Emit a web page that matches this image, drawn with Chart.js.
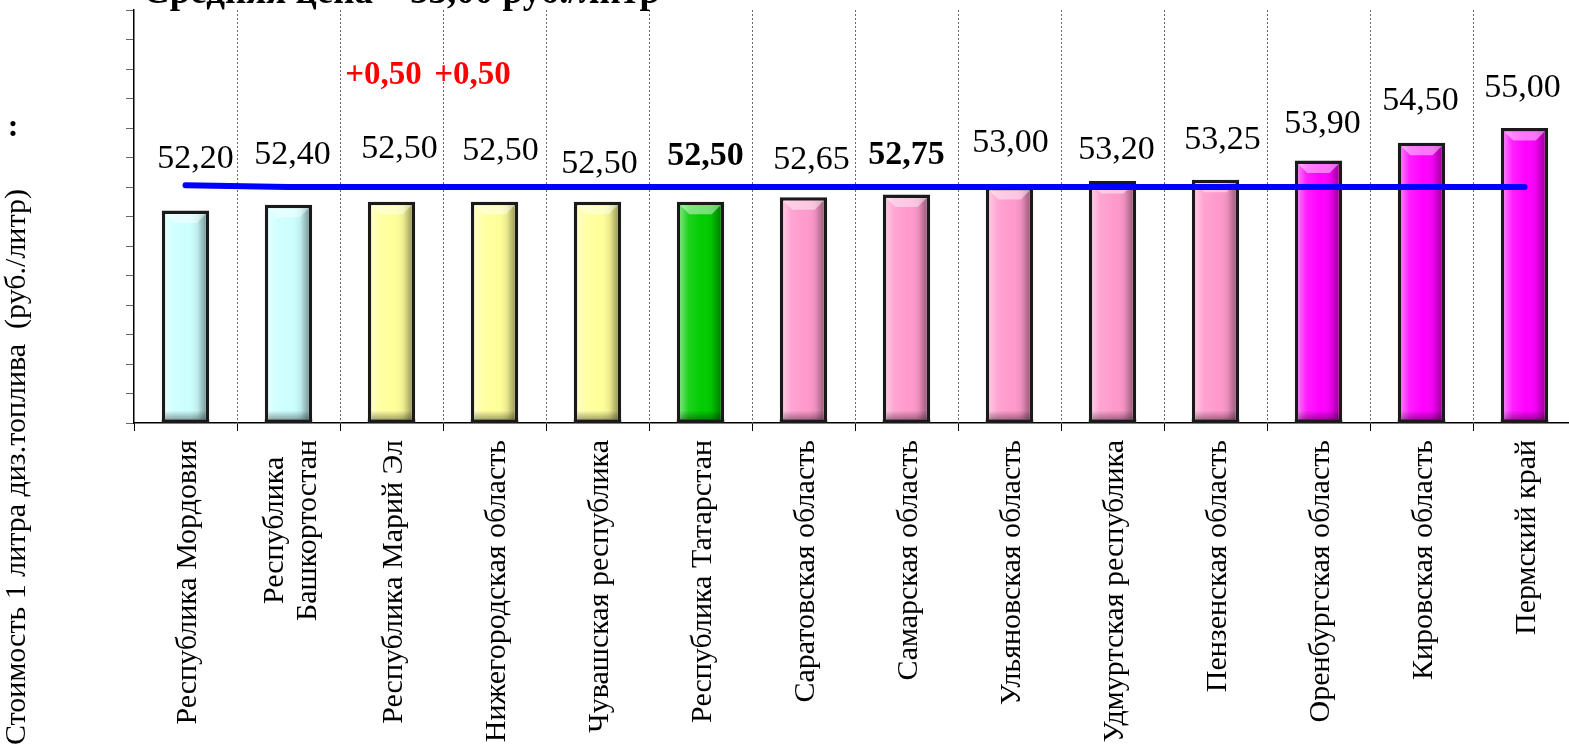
<!DOCTYPE html>
<html>
<head>
<meta charset="utf-8">
<script src="https://cdn.jsdelivr.net/npm/chart.js@4"></script>
<style>
    html, body { margin: 0; padding: 0; background: #fff; overflow: hidden; }
    #wrap { width: 1576px; height: 750px; }
</style>
</head>
<body>
<div id="wrap"><canvas id="priceChart" width="1576" height="750"></canvas></div>
<script>
// Regions (x axis categories)
const regions = [
    'Республика Мордовия',
    ['Республика', 'Башкортостан'],
    'Республика Марий Эл',
    'Нижегородская область',
    'Чувашская республика',
    'Республика Татарстан',
    'Саратовская область',
    'Самарская область',
    'Ульяновская область',
    'Удмуртская республика',
    'Пензенская область',
    'Оренбургская область',
    'Кировская область',
    'Пермский край'
];

// Price of 1 litre of diesel, rub.
const prices = [52.20, 52.40, 52.50, 52.50, 52.50, 52.50, 52.65, 52.75, 53.00, 53.20, 53.25, 53.90, 54.50, 55.00];

// Average price line
const averagePrice = [53.06, 53.00, 53.00, 53.00, 53.00, 53.00, 53.00, 53.00, 53.00, 53.00, 53.00, 53.00, 53.00, 53.00];

// Price change shown in red above some regions
const priceChange = [null, null, 0.50, 0.50, null, null, null, null, null, null, null, null, null, null];

// Y scale
const yMin = 45;
const yMax = 59;
const yStep = 1;

// Styles
const barColors = ['#ccffff', '#ccffff', '#ffff99', '#ffff99', '#ffff99', '#00cc00', '#ff99cc',
    '#ff99cc', '#ff99cc', '#ff99cc', '#ff99cc', '#ff00ff', '#ff00ff', '#ff00ff'];
const boldLabel = [false, false, false, false, false, true, false, true, false, false, false, false, false, false];
const labelLift = [52, 50, 53, 51, 38, 46, 37, 39, 44, 31, 40, 36, 42, 40];
const labelShift = [10, 4, 8, 6, 2, 5, 8, 0, 1, 4, 7, 4, -1, -2];

const serif = "'Liberation Serif', 'Times New Roman', serif";

function formatRu(v) {
    return v.toFixed(2).replace('.', ',');
}

// Dotted vertical grid lines between categories
const gridPlugin = {
    id: 'dottedGrid',
    beforeDatasetsDraw(chart) {
        const ctx = chart.ctx;
        const x = chart.scales.x;
        const area = chart.chartArea;
        ctx.save();
        ctx.strokeStyle = '#666';
        ctx.lineWidth = 1;
        ctx.setLineDash([2, 2]);
        for (let i = 1; i < regions.length; i++) {
            const px = Math.round((x.getPixelForValue(i - 1) + x.getPixelForValue(i)) / 2) + 0.5;
            ctx.beginPath();
            ctx.moveTo(px, area.top);
            ctx.lineTo(px, area.bottom);
            ctx.stroke();
        }
        ctx.restore();
    }
};

// Bevel shading on bars
const bevelPlugin = {
    id: 'bevel',
    afterDatasetDraw(chart, args) {
        if (args.index !== 0) return;
        const ctx = chart.ctx;
        const area = chart.chartArea;
        ctx.save();
        args.meta.data.forEach(bar => {
            const b = 3.5;
            const left = bar.x - bar.width / 2 + b;
            const right = bar.x + bar.width / 2 - b;
            const top = bar.y + b;
            const bottom = Math.min(bar.base, area.bottom) - b;
            const w = right - left;
            const g = ctx.createLinearGradient(left, 0, right, 0);
            g.addColorStop(0, 'rgba(255,255,255,0.45)');
            g.addColorStop(0.2, 'rgba(255,255,255,0.12)');
            g.addColorStop(0.55, 'rgba(255,255,255,0)');
            g.addColorStop(0.8, 'rgba(0,0,0,0.08)');
            g.addColorStop(1, 'rgba(0,0,0,0.38)');
            ctx.fillStyle = g;
            ctx.fillRect(left, top, w, bottom - top);
            // top facet
            ctx.fillStyle = 'rgba(255,255,255,0.45)';
            ctx.beginPath();
            ctx.moveTo(left, top);
            ctx.lineTo(right, top);
            ctx.lineTo(right - 9, top + 9);
            ctx.lineTo(left + 9, top + 9);
            ctx.closePath();
            ctx.fill();
            // bottom facet
            const gb = ctx.createLinearGradient(0, bottom - 9, 0, bottom);
            gb.addColorStop(0, 'rgba(0,0,0,0)');
            gb.addColorStop(1, 'rgba(0,0,0,0.35)');
            ctx.fillStyle = gb;
            ctx.fillRect(left, bottom - 9, w, 9);
            // bottom border (the bar itself is clipped at the axis)
            ctx.fillStyle = '#1a1a1a';
            ctx.fillRect(left - b, bottom, w + 2 * b, b);
        });
        ctx.restore();
    }
};

// Value labels, red change labels, category labels, title and y-axis caption
const textPlugin = {
    id: 'texts',
    afterDraw(chart) {
        const ctx = chart.ctx;
        const bars = chart.getDatasetMeta(0).data;
        const xs = chart.scales.x;
        ctx.save();
        ctx.textAlign = 'center';
        ctx.textBaseline = 'middle';
        ctx.fillStyle = '#000';
        bars.forEach((bar, i) => {
            ctx.font = (boldLabel[i] ? 'bold ' : '') + '34px ' + serif;
            ctx.fillText(formatRu(prices[i]), bar.x + labelShift[i], bar.y - labelLift[i]);
        });

        // red change labels
        ctx.fillStyle = '#ff0000';
        ctx.font = 'bold 33px ' + serif;
        const changeShift = [0, 0, -8, -22];
        bars.forEach((bar, i) => {
            if (priceChange[i] === null) return;
            ctx.fillText('+' + formatRu(priceChange[i]), bar.x + (changeShift[i] || 0), 75);
        });

        // category labels, rotated, top-aligned under the axis
        ctx.fillStyle = '#000';
        ctx.font = '30px ' + serif;
        const labelTop = chart.chartArea.bottom + 17;
        const lineH = 33;
        regions.forEach((lab, i) => {
            const lines = Array.isArray(lab) ? lab : [lab];
            const maxW = Math.max(...lines.map(l => ctx.measureText(l).width));
            const cx = xs.getPixelForValue(i) + 3;
            ctx.save();
            ctx.translate(cx, labelTop + maxW / 2);
            ctx.rotate(-Math.PI / 2);
            lines.forEach((l, k) => {
                const dy = (k - (lines.length - 1) / 2) * lineH;
                ctx.fillText(l, 0, dy);
            });
            ctx.restore();
        });

        // title (clipped at top edge)
        ctx.textAlign = 'left';
        ctx.textBaseline = 'alphabetic';
        ctx.font = 'bold 37px ' + serif;
        ctx.fillText('Средняя цена – 53,00 руб./литр', 143, 3);

        // y-axis caption
        ctx.font = '30px ' + serif;
        ctx.translate(17, 745);
        ctx.rotate(-Math.PI / 2);
        ctx.textBaseline = 'middle';
        ctx.fillText('Стоимость 1 литра диз.топлива  (руб./литр)', 0, 0);
        ctx.restore();

        ctx.save();
        ctx.font = 'bold 32px ' + serif;
        ctx.textAlign = 'center';
        ctx.textBaseline = 'middle';
        ctx.fillText(':', 13, 128);
        ctx.restore();
    }
};

const ctx = document.getElementById('priceChart').getContext('2d');
new Chart(ctx, {
    type: 'bar',
    data: {
        labels: regions,
        datasets: [{
            type: 'bar',
            label: 'Стоимость',
            data: prices,
            backgroundColor: barColors,
            borderColor: '#1a1a1a',
            borderWidth: 3.5,
            borderSkipped: false,
            categoryPercentage: 1,
            barPercentage: 0.46,
            order: 2
        }, {
            type: 'line',
            label: 'Средняя цена',
            data: averagePrice,
            borderColor: '#0000ff',
            borderWidth: 6,
            borderCapStyle: 'round',
            pointRadius: 0,
            tension: 0,
            fill: false,
            order: 1
        }]
    },
    options: {
        responsive: false,
        animation: false,
        layout: { padding: { top: 10, left: 0, right: 0, bottom: 0 } },
        plugins: {
            legend: { display: false },
            tooltip: { enabled: false }
        },
        scales: {
            x: {
                offset: true,
                grid: {
                    offset: true,
                    drawOnChartArea: false,
                    drawTicks: true,
                    tickLength: 8,
                    color: '#000',
                    lineWidth: 1
                },
                border: { color: '#000', width: 1.5 },
                ticks: { display: false },
                afterFit(scale) {
                    scale.height = 327;
                    scale.paddingLeft = 0;
                    scale.paddingRight = 0;
                }
            },
            y: {
                min: yMin,
                max: yMax,
                ticks: { stepSize: yStep, display: false },
                grid: {
                    drawOnChartArea: false,
                    drawTicks: true,
                    tickLength: 8,
                    color: '#666',
                    lineWidth: 1
                },
                border: { color: '#000', width: 1.5 },
                afterFit(scale) {
                    scale.width = 134;
                }
            }
        }
    },
    plugins: [gridPlugin, bevelPlugin, textPlugin]
});
</script>
</body>
</html>
